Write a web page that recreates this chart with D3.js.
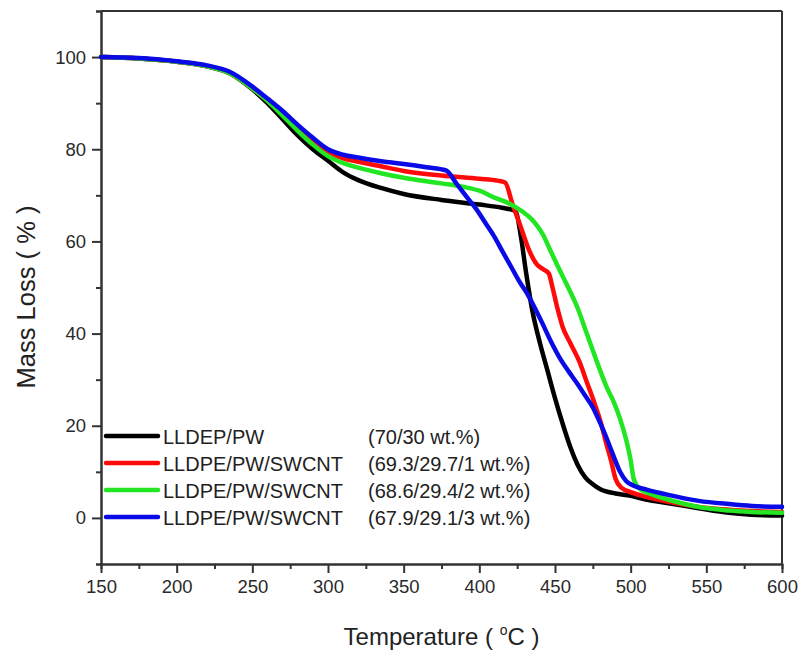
<!DOCTYPE html>
<html><head><meta charset="utf-8">
<script src="https://cdn.jsdelivr.net/npm/d3@7/dist/d3.min.js"></script>
<style>
body{margin:0;background:#fff;}
svg{display:block;font-family:"Liberation Sans",Arial,sans-serif;}
</style></head>
<body><svg id="chart" width="803" height="655"></svg>
<script>
// ---- data ----
const xTicks = [150,200,250,300,350,400,450,500,550,600];
const xMinorTicks = [175,225,275,325,375,425,475,525,575];
const yTicks = [0,20,40,60,80,100];
const yMinorTicks = [-10,10,30,50,70,90,110];

const seriesNames = ["LLDEP/PW","LLDPE/PW/SWCNT","LLDPE/PW/SWCNT","LLDPE/PW/SWCNT"];
const seriesComp = ["(70/30 wt.%)","(69.3/29.7/1 wt.%)","(68.6/29.4/2 wt.%)","(67.9/29.1/3 wt.%)"];
const seriesColors = ["#000000","#ff0a0a","#22e622","#0a0ae6"];

const blackData = [[150,100],[175,99.7],[200,99],[220,98],[235,96.5],[250,93],[260,90],[270,86.5],[280,83],[290,80],[300,77.5],[310,75],[320,73.3],[335,71.6],[350,70.3],[375,69],[400,68],[415,67.3],[424,66.6],[427,62],[431,53],[435,45],[440,38],[445,32],[450,26],[455,20.5],[460,15.5],[465,11.5],[470,8.8],[475,7.3],[480,6.2],[490,5.3],[500,4.8],[510,4],[525,3.2],[545,2.1],[565,1.1],[580,0.7],[600,0.5]];
const redData = [[150,100],[175,99.7],[200,99],[220,98],[235,96.5],[250,93.2],[260,90.5],[270,87.5],[280,84.5],[290,81.8],[300,79.5],[310,78],[320,77.3],[335,76.3],[350,75.3],[375,74.3],[400,73.6],[412,73.2],[417,72.8],[422,68],[427,63.5],[433,58],[438,55],[442,54],[446,53],[448,50.5],[452,45],[455,41.5],[460,38],[466,34],[471,29.5],[476,25],[480,21],[484,16],[487,12.5],[490,8.5],[494,6.5],[500,5.6],[510,4.6],[525,3.5],[545,2.4],[565,1.8],[580,1.5],[600,1.3]];
const greenData = [[150,100],[175,99.7],[200,99],[220,98],[235,96.5],[250,93.2],[260,90.5],[270,87.3],[280,84],[290,81],[300,78.5],[310,77],[320,76],[335,74.8],[350,73.8],[375,72.6],[390,71.8],[400,71],[410,69.5],[420,68.2],[428,66.6],[434,65],[438,63.5],[442,61.5],[447,58],[452,54.5],[458,50.5],[465,45.5],[471,40],[477,34.5],[484,28.5],[489,25],[493,21.5],[497,17],[500,12.5],[502,8.5],[506,6.3],[515,5],[530,3.5],[546,2.3],[565,1.6],[580,1.3],[600,1.1]];
const blueData = [[150,100],[175,99.8],[200,99.1],[220,98.2],[235,96.8],[250,93.6],[260,91],[270,88.3],[280,85.3],[290,82.5],[300,80],[310,78.8],[320,78.2],[335,77.4],[350,76.8],[365,76.1],[378,75.4],[385,72.5],[392,69.5],[398,67],[405,63.5],[410,61],[415,58],[421,54.5],[427,51],[431,49],[436,46],[442,42],[447,38.5],[453,34.8],[459,31.8],[465,29],[470,26.5],[475,24],[480,20.5],[484,17.4],[488,14],[493,10],[497,8],[502,7],[510,6.2],[525,5],[545,3.7],[565,3],[580,2.6],[600,2.4]];
const allSeries = [blackData, redData, greenData, blueData];

// ---- layout ----
const svg = d3.select("#chart");
const L = 101, R = 782, T = 11, B = 564;
const x = d3.scaleLinear().domain([150,600]).range([L,R]);
const y = d3.scaleLinear().domain([-10,110]).range([B,T]);
const axisColor = "#333";

// frame (top & right)
svg.append("line").attr("x1",L).attr("x2",R).attr("y1",T).attr("y2",T).attr("stroke",axisColor).attr("stroke-width",2);
svg.append("line").attr("x1",R).attr("x2",R).attr("y1",T).attr("y2",B).attr("stroke",axisColor).attr("stroke-width",2);

function styleAxis(g){
  g.select(".domain").attr("stroke",axisColor).attr("stroke-width",2);
  g.selectAll(".tick line").attr("stroke",axisColor).attr("stroke-width",2);
  g.selectAll("text").attr("fill","#2a2a2a").style("font-size","18.5px");
}
// minor ticks
svg.append("g").attr("transform",`translate(0,${B})`)
  .call(d3.axisBottom(x).tickValues(xMinorTicks).tickSize(5).tickFormat(""))
  .call(styleAxis);
svg.append("g").attr("transform",`translate(${L},0)`)
  .call(d3.axisLeft(y).tickValues(yMinorTicks).tickSize(5).tickFormat(""))
  .call(styleAxis);
// major ticks
svg.append("g").attr("transform",`translate(0,${B})`)
  .call(d3.axisBottom(x).tickValues(xTicks).tickSize(9).tickSizeOuter(0).tickPadding(7).tickFormat(d3.format("d")))
  .call(styleAxis);
svg.append("g").attr("transform",`translate(${L},0)`)
  .call(d3.axisLeft(y).tickValues(yTicks).tickSize(9).tickSizeOuter(0).tickPadding(6).tickFormat(d3.format("d")))
  .call(styleAxis);

// axis titles
svg.append("text").attr("x",(L+R)/2).attr("y",645).attr("text-anchor","middle")
  .style("font-size","24px").attr("fill","#222")
  .call(t=>{
    t.append("tspan").text("Temperature ( ");
    t.append("tspan").text("o").style("font-size","14px").attr("dy",-10);
    t.append("tspan").text("C )").attr("dy",10);
  });
svg.append("text").attr("transform","translate(35,297) rotate(-90)").attr("text-anchor","middle")
  .style("font-size","25.5px").attr("fill","#222").text("Mass Loss ( % )");

// lines
const line = d3.line().x(d=>x(d[0])).y(d=>y(d[1])).curve(d3.curveMonotoneX);
allSeries.forEach((s,i)=>{
  svg.append("path").datum(s).attr("d",line).attr("fill","none")
    .attr("stroke",seriesColors[i]).attr("stroke-width",4.5)
    .attr("stroke-linejoin","round").attr("stroke-linecap","round");
});

// legend
const legY = [436,463,490,517];
seriesNames.forEach((n,i)=>{
  const g = svg.append("g");
  g.append("line").attr("x1",106).attr("x2",158).attr("y1",legY[i]).attr("y2",legY[i])
    .attr("stroke",seriesColors[i]).attr("stroke-width",4.5).attr("stroke-linecap","round");
  g.append("text").attr("x",163).attr("y",legY[i]+7.5).style("font-size","20px").attr("fill","#222").text(n);
  g.append("text").attr("x",368).attr("y",legY[i]+7.5).style("font-size","20px").attr("fill","#222").text(seriesComp[i]);
});
</script></body></html>
